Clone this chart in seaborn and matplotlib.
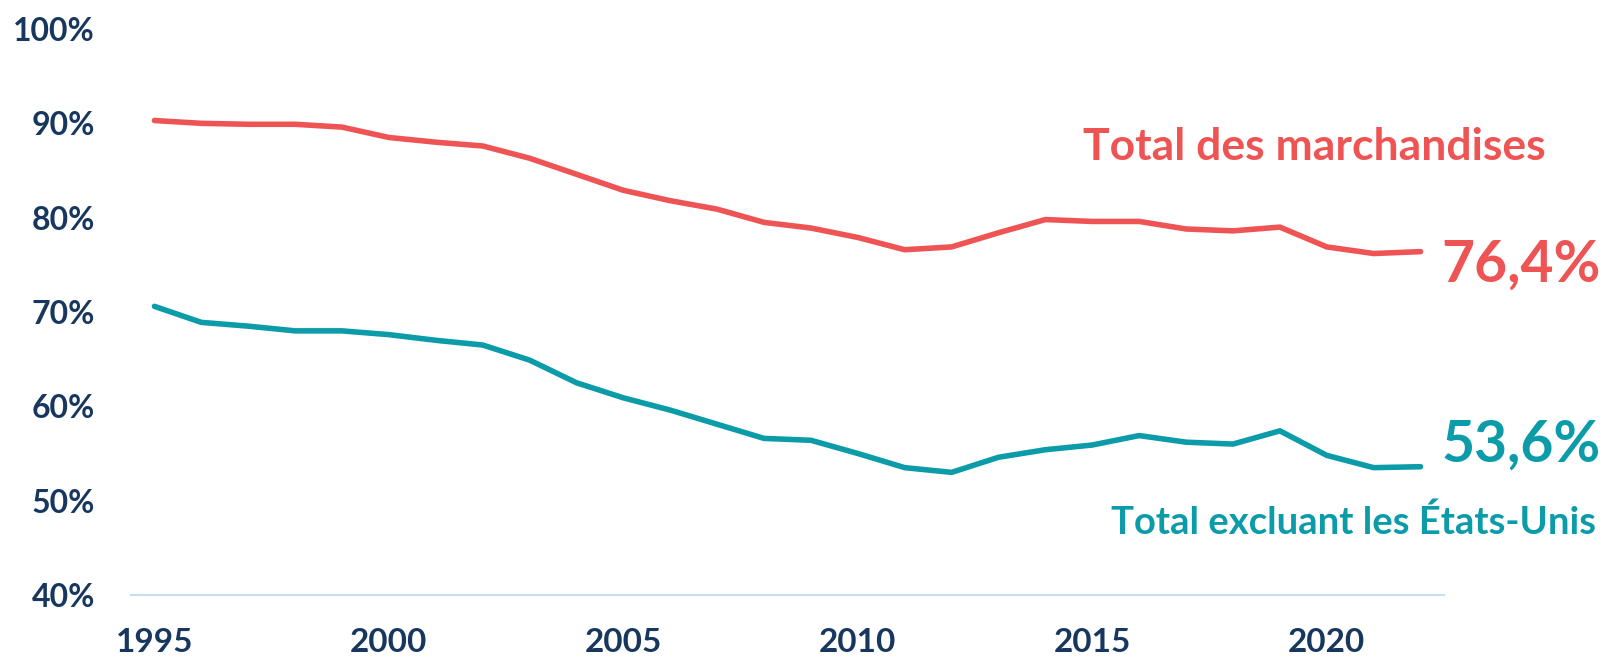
import matplotlib
matplotlib.use("Agg")
import matplotlib.pyplot as plt
import seaborn as sns
import pandas as pd
from matplotlib.ticker import FuncFormatter

years = list(range(1995, 2023))
total = [90.3, 90.0, 89.9, 89.9, 89.6, 88.5, 88.0, 87.6, 86.3, 84.6, 82.9, 81.8, 80.9, 79.5,
         78.9, 77.9, 76.6, 76.9, 78.4, 79.8, 79.6, 79.6, 78.8, 78.6, 79.0, 76.9, 76.2, 76.4]
excl_us = [70.6, 68.9, 68.5, 68.0, 68.0, 67.6, 67.0, 66.5, 64.9, 62.5, 60.9, 59.6, 58.1, 56.6,
           56.4, 55.0, 53.5, 53.0, 54.6, 55.4, 55.9, 56.9, 56.2, 56.0, 57.4, 54.8, 53.5, 53.6]
series_names = ["Total des marchandises", "Total excluant les États-Unis"]
value_labels = ["76,4%", "53,6%"]

RED = "#EF5455"
TEAL = "#0B9BA9"
NAVY = "#17375E"
GRID = "#C8DCF3"

df = pd.DataFrame({
    "year": years * 2,
    "value": [v / 100 for v in total] + [v / 100 for v in excl_us],
    "series": [series_names[0]] * len(years) + [series_names[1]] * len(years),
})

sns.set_theme(style="white")
plt.rcParams["font.family"] = ["Lato", "DejaVu Sans"]

fig = plt.figure(figsize=(16.04, 6.57), dpi=100)
ax = fig.add_axes([131 / 1604, 1 - 595 / 657, (1444 - 131) / 1604, (595 - 29) / 657])

sns.lineplot(data=df, x="year", y="value", hue="series", palette=[RED, TEAL],
             linewidth=4.0, legend=False, ax=ax, solid_capstyle="round")

ax.set_xlim(1994.5, 2022.5)
ax.set_ylim(0.40, 1.00)
ax.set_yticks([0.4, 0.5, 0.6, 0.7, 0.8, 0.9, 1.0])
ax.set_xticks([1995, 2000, 2005, 2010, 2015, 2020])
ax.yaxis.set_major_formatter(FuncFormatter(lambda v, p: f"{round(v * 100)}%"))
ax.set_xlabel("")
ax.set_ylabel("")
for s in ["top", "right", "left"]:
    ax.spines[s].set_visible(False)
ax.spines["bottom"].set_color(GRID)
ax.spines["bottom"].set_linewidth(1.5)
ax.grid(False)
ax.tick_params(axis="both", length=0, colors=NAVY)
ax.tick_params(axis="y", pad=26)
ax.tick_params(axis="x", pad=24)
for lab in ax.get_yticklabels():
    lab.set_fontsize(23)
    lab.set_fontweight("bold")
    lab.set_color(NAVY)
for lab in ax.get_xticklabels():
    lab.set_fontsize(24)
    lab.set_fontweight("bold")
    lab.set_color(NAVY)

# value labels at end of lines
ax.annotate(value_labels[0], xy=(years[-1], total[-1] / 100), xytext=(15, -10),
            textcoords="offset points", ha="left", va="center", fontsize=41,
            fontweight="bold", color=RED)
ax.annotate(value_labels[1], xy=(years[-1], excl_us[-1] / 100), xytext=(15, 15.5),
            textcoords="offset points", ha="left", va="center", fontsize=41,
            fontweight="bold", color=TEAL)

# series name labels
fig.text(1546 / 1604, 1 - 147 / 657, series_names[0], ha="right", va="center",
         fontsize=32, fontweight="bold", color=RED)
fig.text(1596 / 1604, 1 - 522 / 657, series_names[1], ha="right", va="center",
         fontsize=27.5, fontweight="bold", color=TEAL)

fig.savefig("out.png", dpi=100, facecolor="white")
